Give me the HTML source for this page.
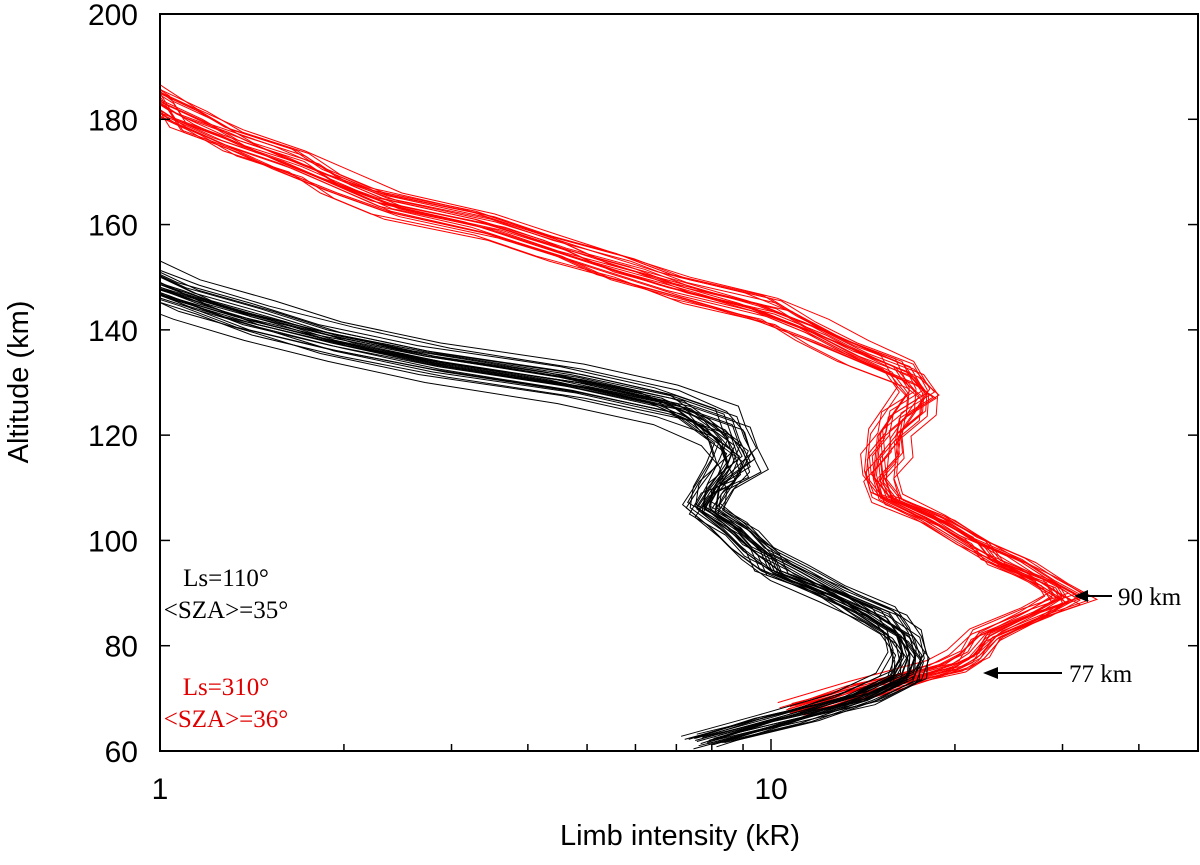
<!DOCTYPE html>
<html><head><meta charset="utf-8"><style>
body{margin:0;background:#fff}
svg text{font-family:"Liberation Sans",sans-serif}
.serif{font-family:"Liberation Serif",serif}
</style></head><body>
<svg id="chart" width="1200" height="860" xmlns="http://www.w3.org/2000/svg">
<defs><clipPath id="clip"><rect x="160" y="14" width="1038" height="737"/></clipPath></defs>
<g id="marks" clip-path="url(#clip)"></g>
<rect x="160" y="14" width="1038" height="737" fill="none" stroke="#000" stroke-width="2"/>
<g id="axes"></g>
<text x="680" y="845" font-size="29" text-anchor="middle">Limb intensity (kR)</text>
<text transform="translate(28,382) rotate(-90)" font-size="29" text-anchor="middle">Altitude (km)</text>
<g class="serif" font-size="25" text-anchor="middle">
<text x="226" y="586" class="serif">Ls=110°</text>
<text x="226" y="618" class="serif">&lt;SZA&gt;=35°</text>
<text x="226" y="695" fill="#e00000" class="serif">Ls=310°</text>
<text x="226" y="727" fill="#e00000" class="serif">&lt;SZA&gt;=36°</text>
</g>
<g>
<line x1="1112" y1="596" x2="1085" y2="596" stroke="#000" stroke-width="2"/>
<polygon points="1074,596 1088,590 1088,602" fill="#000"/>
<text x="1118" y="605" font-size="25" class="serif">90 km</text>
</g>
<g>
<line x1="1062" y1="673" x2="995" y2="673" stroke="#000" stroke-width="2"/>
<polygon points="983,673 998,667 998,679" fill="#000"/>
<text x="1069" y="682" font-size="25" class="serif">77 km</text>
</g>
</svg>
<script>
const blackAlt = [62,66,70,74,78,82,86,90,94,98,102,106,110,114,118,122,126,130,134,138,142,146,150,154];
const blackVal = [7.8,10.5,13.5,16,18,17,14.5,12.5,10.5,9.2,8.5,8.3,8.4,8.6,8.6,8.1,6.6,4.6,3.0,2.0,1.4,1.1,0.9,0.8];
const redAlt = [68,72,76,78,82,86,89,92,96,100,104,108,112,116,120,124,128,132,136,140,144,148,152,156,160,164,168,172,176,180,184,188];
const redVal = [11,14.5,19,20.5,24,28,30,28,24,20.5,18,16.5,15.5,15,15.5,16.5,17,16,14.5,12,9.5,7,5.5,4.2,3.3,2.5,2.0,1.6,1.3,1.1,0.95,0.85];
const blackScale = [1.0,0.92,1.08,0.95,1.04,0.88,1.12,0.97,1.02,0.9,1.06,0.94,1.0,1.1,0.86,0.99,1.05,0.93,1.03,0.96,1.09,0.91,1.01,0.98,1.07,0.89,0.95,1.04,1.0,0.94];
const blackShift = [0,1,-1,2,-2,0.5,-0.5,1.5,-1.5,3,-3,0,1,-1,2,-2,0.5,-4,1.5,-1.5,2.5,-2.5,0,1,-1,0.5,-0.5,3.5,-1,1];
const redScale = [1.0,0.93,1.07,0.96,1.04,0.9,1.1,0.98,1.02,0.92,1.06,0.95,1.01,1.08,0.89,0.99,1.05,0.94,1.03,0.97,1.09,0.91,1.0,0.96,1.04];
const redShift = [0,1,-1,2,-2,0.5,-0.5,1.5,-1.5,2.5,-2.5,0,1,-1,3,-3,0.5,-0.5,1.5,-1.5,2,-2,0,1,-1];
const jitter = [0.04,-0.06,0.02,0.08,-0.03,-0.07,0.05,0.01,-0.02,0.06,-0.05,0.03,-0.08,0.07,0,-0.04,0.05,-0.01,0.09,-0.06,0.02];
const yTicks = [60,80,100,120,140,160,180,200];
const xMajor = [1,10];
const xMinor = [2,3,4,5,6,7,8,9,20,30,40];

const X0=160,X1=1198,Y0=751,Y1=14;
const dec=611;
function xs(v){return X0+Math.log10(v)*dec;}
function ys(a){return Y0-(a-60)*(Y0-Y1)/140;}
const NS='http://www.w3.org/2000/svg';
const marks=document.getElementById('marks');
function drawGroup(alt,val,scales,shifts,color,name){
  for(let i=0;i<scales.length;i++){
    const pts=[];
    for(let j=0;j<alt.length;j++){
      const jt=jitter[(i*7+j*3)%jitter.length];
      const v=val[j]*Math.pow(scales[i],0.6)*Math.pow(10,jt*0.35);
      const a=alt[j]+shifts[i]*(j>alt.length*0.5?1:0.4);
      pts.push(xs(v).toFixed(1)+','+ys(a).toFixed(1));
    }
    const p=document.createElementNS(NS,'polyline');
    p.setAttribute('points',pts.join(' '));
    p.setAttribute('fill','none');
    p.setAttribute('stroke',color);
    p.setAttribute('stroke-width','1');
    
    
    marks.appendChild(p);
  }
}
drawGroup(redAlt,redVal,redScale,redShift,'#ff0000','red-profile-ls310');
drawGroup(blackAlt,blackVal,blackScale,blackShift,'#000000','black-profile-ls110');

const axes=document.getElementById('axes');
function line(x1,y1,x2,y2){const l=document.createElementNS(NS,'line');l.setAttribute('x1',x1);l.setAttribute('y1',y1);l.setAttribute('x2',x2);l.setAttribute('y2',y2);l.setAttribute('stroke','#000');l.setAttribute('stroke-width','1.5');axes.appendChild(l);return l;}
function text(x,y,s,anchor){const t=document.createElementNS(NS,'text');t.setAttribute('x',x);t.setAttribute('y',y);t.setAttribute('font-size','30');t.setAttribute('text-anchor',anchor);t.textContent=s;axes.appendChild(t);return t;}
yTicks.forEach(v=>{
  const y=ys(v);
  const l=line(X0,y,X0+10,y);
  
  
  const l2=line(X1-10,y,X1,y);
  
  
  const t=text(138,y+11,String(v),'end');
  
  
});
xMajor.forEach(v=>{
  const x=xs(v);
  const l=line(x,Y0,x,Y0-12);
  
  
  const t=text(x,799,String(v),'middle');
  
  
});
xMinor.forEach(v=>{
  const x=xs(v);
  const l=line(x,Y0,x,Y0-7);
  
  
});
</script>
</body></html>
